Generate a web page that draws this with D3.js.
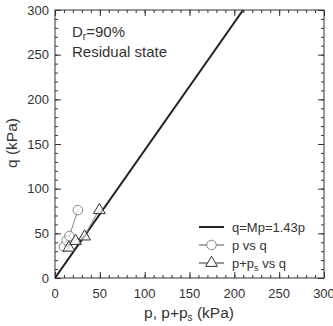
<!DOCTYPE html>
<html><head><meta charset="utf-8">
<script src="https://cdn.jsdelivr.net/npm/d3@7"></script>
<style>body{margin:0;background:#fff}svg text{font-family:"Liberation Sans",Arial,sans-serif}</style>
</head><body><svg id="c" width="333" height="326"></svg>
<script>
const pCircle = [10, 13, 16, 25.5];
const qCircle = [35, 42, 47, 76];
const pTri = [15.5, 23, 33, 49.5];
const qTri = [35, 42.5, 47.5, 77];
const slopeM = 1.43;
const tickValues = [0, 50, 100, 150, 200, 250, 300];

const svg = d3.select("#c");
const L = 55, R = 324, T = 10, B = 278;
const x = d3.scaleLinear().domain([0, 300]).range([L, R]);
const y = d3.scaleLinear().domain([0, 300]).range([B, T]);
const g = svg.append("g");
const minor = d3.range(0, 301, 10);

g.append("rect").attr("x", L).attr("y", T).attr("width", R - L).attr("height", B - T)
  .attr("fill", "none").attr("stroke", "#333").attr("stroke-width", 1);

function ticks(axisFn, tr, vals, len) {
  const a = g.append("g").attr("transform", tr)
    .call(axisFn.tickValues(vals).tickSize(len).tickFormat(""));
  a.select(".domain").remove();
  a.selectAll("line").attr("stroke", "#333");
  return a;
}
ticks(d3.axisTop(x), `translate(0,${B})`, minor, 3);
ticks(d3.axisTop(x), `translate(0,${B})`, tickValues, 6);
ticks(d3.axisBottom(x), `translate(0,${T})`, minor, 3);
ticks(d3.axisBottom(x), `translate(0,${T})`, tickValues, 6);
ticks(d3.axisRight(y), `translate(${L},0)`, minor, 3);
ticks(d3.axisRight(y), `translate(${L},0)`, tickValues, 6);
ticks(d3.axisLeft(y), `translate(${R},0)`, minor, 3);
ticks(d3.axisLeft(y), `translate(${R},0)`, tickValues, 6);

g.append("g").selectAll("text").data(tickValues).join("text")
  .attr("x", d => x(d)).attr("y", B + 20).attr("text-anchor", "middle")
  .attr("font-size", 13).attr("fill", "#333").text(d => d);
g.append("g").selectAll("text").data(tickValues).join("text")
  .attr("x", L - 6).attr("y", d => y(d) + 4.5).attr("text-anchor", "end")
  .attr("font-size", 13).attr("fill", "#333").text(d => d);

const xt = g.append("text").attr("x", 189).attr("y", 318).attr("text-anchor", "middle")
  .attr("font-size", 15.5).attr("fill", "#333");
xt.append("tspan").text("p, p+p");
xt.append("tspan").attr("font-size", 10).attr("dy", 3).text("s");
xt.append("tspan").attr("dy", -3).text(" (kPa)");
g.append("text").attr("transform", `translate(17,143) rotate(-90)`).attr("text-anchor", "middle")
  .attr("font-size", 15.5).attr("fill", "#333").text("q (kPa)");

const a1 = g.append("text").attr("x", 72).attr("y", 37).attr("font-size", 15).attr("fill", "#333");
a1.append("tspan").text("D");
a1.append("tspan").attr("font-size", 10).attr("dy", 3).text("r");
a1.append("tspan").attr("dy", -3).text("=90%");
g.append("text").attr("x", 72).attr("y", 57).attr("font-size", 15).attr("fill", "#333").text("Residual state");

svg.append("clipPath").attr("id", "clp").append("rect").attr("x", L).attr("y", T).attr("width", R - L).attr("height", B - T);
const pl = g.append("g").attr("clip-path", "url(#clp)");

const pMax = 300 / slopeM;
pl.append("line").attr("x1", x(0)).attr("y1", y(0)).attr("x2", x(pMax)).attr("y2", y(slopeM * pMax))
  .attr("stroke", "#222").attr("stroke-width", 2);

const gray = "#888";
const line = d3.line().x(d => x(d[0])).y(d => y(d[1]));
const cData = pCircle.map((p, i) => [p, qCircle[i]]);
const tData = pTri.map((p, i) => [p, qTri[i]]);
pl.append("path").attr("d", line(cData)).attr("fill", "none").attr("stroke", gray).attr("stroke-width", 1);
pl.append("path").attr("d", line(tData)).attr("fill", "none").attr("stroke", gray).attr("stroke-width", 1);

const tri = d3.symbol().type(d3.symbolTriangle).size(60);
pl.selectAll(".c").data(cData).join("circle").attr("cx", d => x(d[0])).attr("cy", d => y(d[1]))
  .attr("r", 4.8).attr("fill", "#fff").attr("fill-opacity", 0.6).attr("stroke", gray).attr("stroke-width", 1);
pl.selectAll(".t").data(tData).join("path").attr("d", tri)
  .attr("transform", d => `translate(${x(d[0])},${y(d[1]) + 1})`)
  .attr("fill", "#fff").attr("fill-opacity", 0.6).attr("stroke", "#333").attr("stroke-width", 1);

const lg = g.append("g");
const lx1 = 199, lx2 = 224, mx = 211.5, tx = 232;
const ly = [227, 245, 263];
lg.append("line").attr("x1", lx1).attr("x2", lx2).attr("y1", ly[0]).attr("y2", ly[0]).attr("stroke", "#222").attr("stroke-width", 2);
lg.append("text").attr("x", tx).attr("y", ly[0] + 4.5).attr("font-size", 13).attr("fill", "#333").text("q=Mp=1.43p");
lg.append("line").attr("x1", lx1).attr("x2", lx2).attr("y1", ly[1]).attr("y2", ly[1]).attr("stroke", "#555").attr("stroke-width", 1);
lg.append("circle").attr("cx", mx).attr("cy", ly[1]).attr("r", 4.8).attr("fill", "#fff").attr("stroke", gray);
lg.append("text").attr("x", tx).attr("y", ly[1] + 4.5).attr("font-size", 13).attr("fill", "#333").text("p vs q");
lg.append("line").attr("x1", lx1).attr("x2", lx2).attr("y1", ly[2]).attr("y2", ly[2]).attr("stroke", "#333").attr("stroke-width", 1);
lg.append("path").attr("d", tri).attr("transform", `translate(${mx},${ly[2]})`).attr("fill", "#fff").attr("stroke", "#333");
const lt = lg.append("text").attr("x", tx).attr("y", ly[2] + 4.5).attr("font-size", 13).attr("fill", "#333");
lt.append("tspan").text("p+p");
lt.append("tspan").attr("font-size", 9).attr("dy", 3).text("s");
lt.append("tspan").attr("dy", -3).text(" vs q");
</script></body></html>
